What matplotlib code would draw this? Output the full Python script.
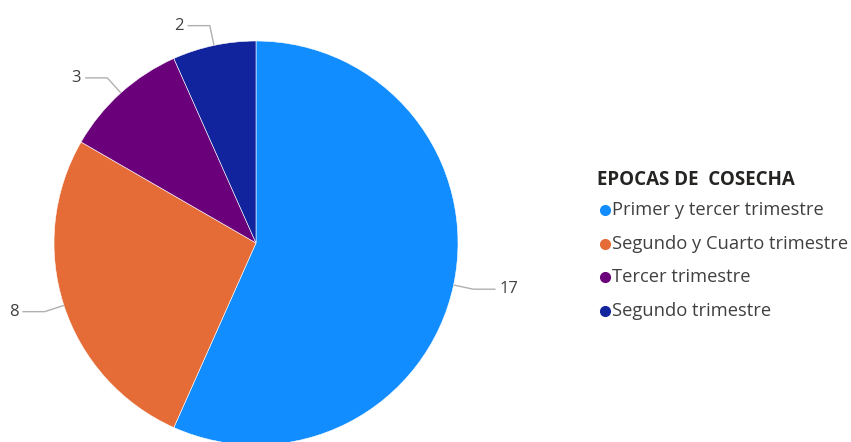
import numpy as np
import matplotlib.pyplot as plt

categories = ["Primer y tercer trimestre", "Segundo y Cuarto trimestre",
              "Tercer trimestre", "Segundo trimestre"]
values = [17, 8, 3, 2]
colors = ["#118DFF", "#E66C37", "#6B007B", "#12239E"]
legend_title = "EPOCAS DE  COSECHA"

W, H = 851, 442
fig = plt.figure(figsize=(W / 100, H / 100), dpi=100)
ax = fig.add_axes([0, 0, 1, 1])

# pie geometry in pixels
cx, cy, R = 256, H - 243, 202

ax.pie(values, colors=colors, startangle=90, counterclock=False,
       radius=1, wedgeprops=dict(edgecolor="white", linewidth=0.4))
ax.set_xlim(-cx / R, (W - cx) / R)
ax.set_ylim(-cy / R, (H - cy) / R)
ax.set_aspect("auto")
ax.axis("off")

font = ["Open Sans", "DejaVu Sans"]

# value labels with leader lines
total = sum(values)
cum = 0
for v in values:
    mid = 90 - (cum + v / 2) / total * 360
    cum += v
    a = np.deg2rad(mid)
    x0, y0 = np.cos(a), np.sin(a)
    x1, y1 = 1.1 * x0, 1.1 * y0
    side = 1 if x0 >= 0 else -1
    x2 = x1 + side * 0.11
    ax.plot([x0, x1, x2], [y0, y1, y1], color="#B0B0B0", lw=1.0,
            solid_capstyle="butt")
    ax.text(x2 + side * 0.02, y1, str(v), ha="left" if side > 0 else "right",
            va="center", fontsize=12, color="#404040", family=font)

# legend
def fx(px):
    return px / W

def fy(py):
    return 1 - py / H

fig.text(fx(597), fy(180), legend_title, fontsize=13.5, fontweight="bold",
         color="#252423", va="center", ha="left", family=font)
rows = [210, 244, 277, 311]
for c, lab, ry in zip(colors, categories, rows):
    fig.add_artist(plt.Line2D([fx(605)], [fy(ry)], marker="o", markersize=7,
                              color=c, transform=fig.transFigure))
    fig.text(fx(612), fy(ry), lab, fontsize=13.2, color="#404040",
             va="center", ha="left", family=font)

fig.savefig("out.png", dpi=100)
